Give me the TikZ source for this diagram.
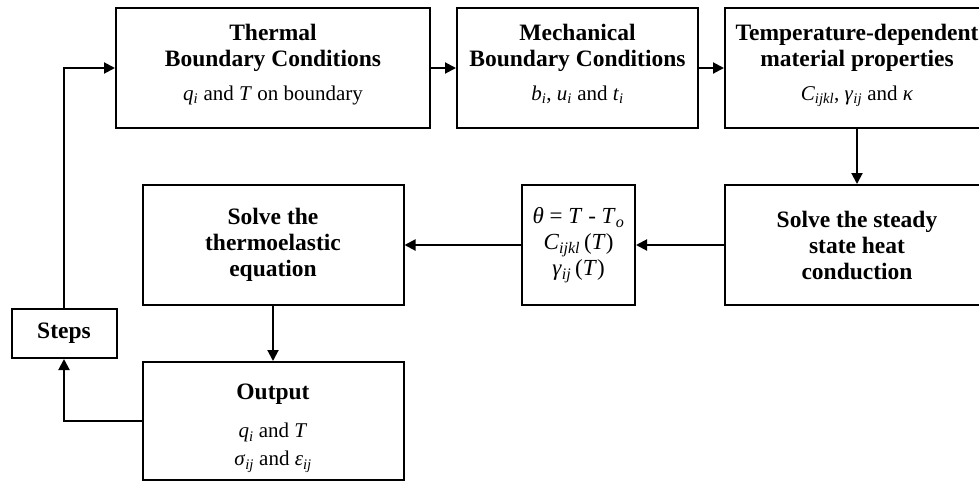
\documentclass[tikz,border=0pt]{standalone}
\usepackage{fontspec}
\setmainfont{Liberation Serif}
\usetikzlibrary{arrows.meta}
\newcommand\vit[1]{\textit{#1}}
\newcommand\vsub[1]{\textsubscript{\textit{#1}}}
\tikzset{
  box/.style={draw, line width=2pt, rectangle, align=center, inner sep=0pt,
    font=\fontsize{23.5}{26}\selectfont\bfseries},
  conn/.style={draw, line width=2pt, -{Triangle[length=11pt,width=11pt]}},
}
\newcommand\rg{\mdseries\fontsize{21}{26}\selectfont}
\newcommand\rgb{\mdseries\fontsize{23}{26}\selectfont}
\begin{document}
\begin{tikzpicture}[x=1pt,y=-1pt]
\path[use as bounding box] (0,0) rectangle (979,483);
\clip (0,0) rectangle (979,483);
\node[box, minimum width=314pt, minimum height=120pt] (thermal) at (273,68)
  {Thermal\\Boundary Conditions\\[8pt]\rg\vit{q}\vsub{i} and \vit{T} on boundary\rule[-12pt]{0pt}{1pt}};
\node[box, minimum width=241pt, minimum height=120pt] (mech) at (577.5,68)
  {Mechanical\\Boundary Conditions\\[8pt]\rg\vit{b}\vsub{i}, \vit{u}\vsub{i} and \vit{t}\vsub{i}\rule[-12pt]{0pt}{1pt}};
\node[box, minimum width=264pt, minimum height=120pt] (temp) at (857,68)
  {Temperature-dependent\\material properties\\[8pt]\rg\vit{C}\vsub{ijkl}, \vit{γ}\vsub{ij} and \vit{κ}\rule[-12pt]{0pt}{1pt}};
\node[box, minimum width=264pt, minimum height=120pt] (steady) at (857,245)
  {Solve the steady\\state heat\\conduction};
\node[box, minimum width=113pt, minimum height=120pt] (theta) at (578.5,245)
  {\rgb\vit{θ} = \vit{T} - \vit{T}\vsub{o}\\\rgb\vit{C}\vsub{ijkl}\,(\vit{T})\\\rgb\vit{γ}\vsub{ij}\,(\vit{T})};
\node[box, minimum width=261pt, minimum height=120pt] (thermo) at (273,245)
  {Solve the\\thermoelastic\\equation};
\node[box, minimum width=261pt, minimum height=118pt] (output) at (273,421)
  {\rule{0pt}{30pt}Output\\[12pt]\rg\vit{q}\vsub{i} and \vit{T}\\[2pt]\rg\vit{σ}\vsub{ij} and \vit{ε}\vsub{ij}};
\node[box, minimum width=105pt, minimum height=49pt] (steps) at (64,333.5) {Steps};
\draw[conn] (thermal.east) -- (mech.west);
\draw[conn] (mech.east) -- (temp.west);
\draw[conn] (temp.south) -- (steady.north);
\draw[conn] (steady.west) -- (theta.east);
\draw[conn] (theta.west) -- (thermo.east);
\draw[conn] (thermo.south) -- (output.north);
\draw[conn] (output.west) -| (steps.south);
\draw[conn] (steps.north) |- (thermal.west);
\end{tikzpicture}
\end{document}
